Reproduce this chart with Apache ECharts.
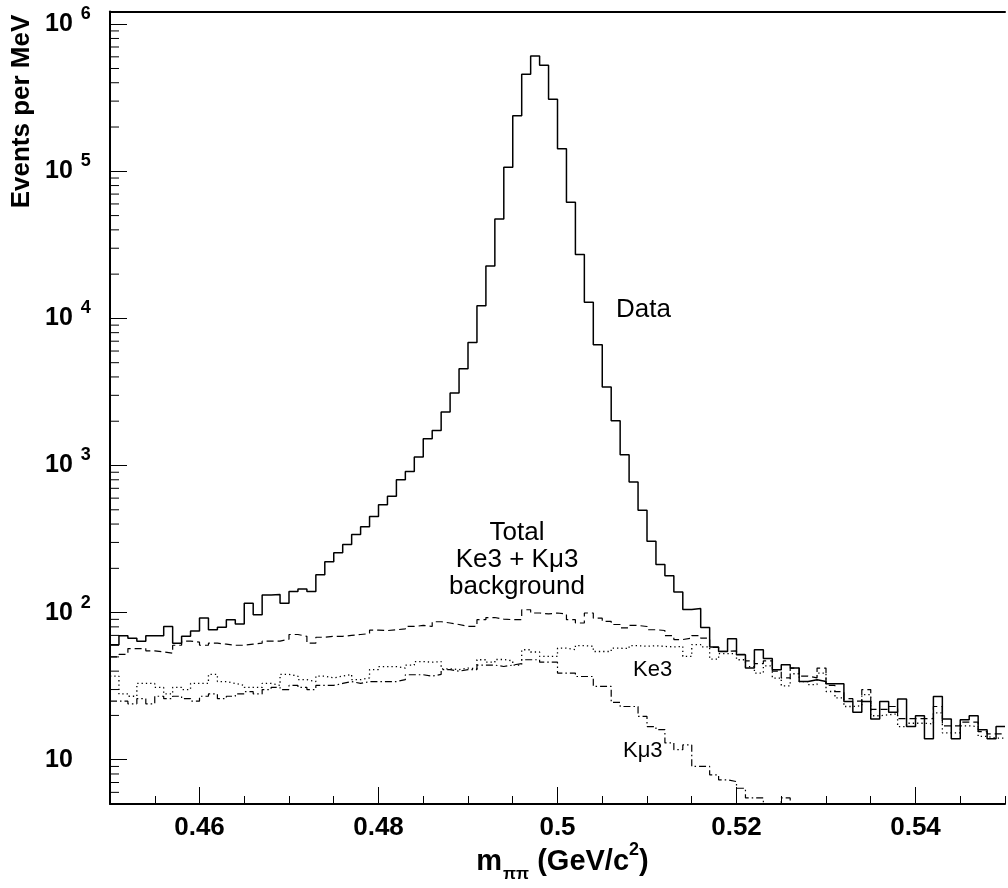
<!DOCTYPE html>
<html><head><meta charset="utf-8">
<script src="https://cdn.jsdelivr.net/npm/echarts@6/dist/echarts.min.js"></script>
<style>html,body{margin:0;padding:0;background:#fff}#c{width:1008px;height:888px}</style>
</head><body><div id="c"></div>
<script>
// ---- data: 1 MeV bins from 0.450 to 0.550 GeV/c^2 ----
const binStart = 0.45;
const binWidth = 0.001;
const dataCounts = [
  60.5, 69.7, 67, 63.8, 69.7, 69.7, 80.5, 62, 69, 75,
  92, 76.5, 79.5, 89.6, 83.6, 116, 96.7, 132, 133, 116,
  139, 145, 139, 181, 222, 255, 290, 340, 384, 450,
  541, 617, 800, 912, 1143, 1521, 1732, 2312, 3113, 4550,
  6870, 12190, 22700, 47400, 106400, 239000, 457000, 608000, 527000, 309000,
  142500, 61600, 27200, 12900, 6620, 3420, 2018, 1184, 773, 496,
  305, 212, 178, 138, 105, 106.6, 79.2, 58.4, 54.5, 66.5,
  51.7, 42, 55.9, 48.7, 40.9, 44.3, 42, 34, 35, 34,
  32.9, 32.9, 24.9, 21, 24.9, 18.9, 24.9, 21, 25.9, 16.8,
  19.9, 13.9, 26.9, 18.9, 13.9, 18.7, 19.9, 16, 13.9, 16.8
];
const totalBkg = [
  50, 52, 57, 57, 55, 54, 53, 60, 64, 63,
  60, 62, 61, 60, 60, 61, 62, 64, 64, 66,
  71, 69, 62, 68, 69, 69, 70, 71, 72, 76,
  75.5, 76.5, 77.5, 80.5, 81.8, 80.5, 86.7, 85, 83, 80.5,
  80.5, 89.6, 92.6, 90.3, 89.6, 89.6, 104.6, 99.4, 98, 99.4,
  98, 89.6, 85, 99.4, 91.6, 87.3, 83, 78.7, 81.8, 80.5,
  76.5, 75.6, 69.7, 65.6, 67, 69.7, 67, 58, 54.5, 55,
  52, 47, 45, 47, 40, 36, 42, 37, 36, 42,
  32, 29, 26, 25, 30, 22, 22, 23, 19, 19,
  19, 19, 23, 17, 17, 18, 18, 15.5, 15, 15
];
const ke3 = [
  37, 28, 27, 33, 33, 31, 28, 31, 30, 33,
  33, 38, 34, 33, 32, 31, 31, 33, 32, 38,
  37, 35, 34, 37, 36, 37, 38, 35, 36, 41,
  43, 43, 42, 44, 46.5, 46, 46.5, 41.5, 41, 42,
  41.5, 47.8, 46, 48, 47, 44, 55.9, 54, 50.4, 50.4,
  57.3, 56, 59.6, 59, 54.4, 54.4, 57.3, 57, 59.6, 59,
  59.6, 58.9, 58.5, 58.9, 50.4, 60.5, 58.5, 48.3, 52.6, 52.6,
  47.8, 43, 38.8, 43.5, 35.9, 31.8, 38.4, 34, 32.4, 38.8,
  29.1, 26.3, 23, 23.3, 27.7, 19.9, 20.2, 20.5, 16.8, 17.7,
  17.7, 17.5, 20.8, 15.2, 15.2, 17, 16.8, 14.4, 14, 14
];
const kmu3 = [
  25, 25, 24, 26, 24, 27, 26, 27, 26, 25,
  27, 28, 26, 27, 28, 29, 28, 30, 31, 30,
  32, 31, 30, 32, 32, 33, 34, 33, 34, 34,
  34, 34, 35, 37.8, 37.8, 37, 38, 41, 40, 41,
  41, 44, 44, 43, 44, 45, 47.8, 47.8, 46, 46,
  38.8, 38.8, 36.8, 36.8, 31.5, 31.5, 24.5, 23, 23, 19.7,
  16.8, 16, 13, 11.7, 12.6, 9, 9, 7.9, 7.3, 7.1,
  6.4, 5.5, 5.5, 4.6, 4.4, 5.5, 4.2, 4, 3.8, 3.6,
  3.5, 3.3, 3.2, 3.1, 3, 2.9, 2.8, 2.7, 2.6, 2.5,
  2.5, 2.4, 2.3, 2.2, 2.2, 2.1, 2, 2, 1.9, 1.9
];
// axis ticks / labels
const xMin = 0.45, xMax = 0.55;
const xLabelTicks = [0.46, 0.48, 0.5, 0.52, 0.54];
const yMin = 5, yMax = 1.22e6;
const yDecadeValues = [10, 100, 1000, 10000, 100000, 1000000];
const yDecadeExps = ['1', '2', '3', '4', '5', '6'];
const yMinorTicks = [6, 7, 8, 9,
  20, 30, 40, 50, 60, 70, 80, 90,
  200, 300, 400, 500, 600, 700, 800, 900,
  2000, 3000, 4000, 5000, 6000, 7000, 8000, 9000,
  20000, 30000, 40000, 50000, 60000, 70000, 80000, 90000,
  200000, 300000, 400000, 500000, 600000, 700000, 800000, 900000];

const FONT = '"Liberation Sans", Arial, Helvetica, sans-serif';

function hist(vals) {
  const pts = vals.map((v, i) => [+(binStart + i * binWidth).toFixed(4), v]);
  pts.push([+(binStart + vals.length * binWidth).toFixed(4), vals[vals.length - 1]]);
  return pts;
}

const chart = echarts.init(document.getElementById('c'), null, {renderer: 'canvas'});

function tickSeries(data, dx, dy) {
  return {
    type: 'custom', coordinateSystem: 'cartesian2d', xAxisIndex: 0, yAxisIndex: 0,
    clip: false, silent: true, z: 10,
    data: data,
    renderItem: function (params, api) {
      const p = api.coord([api.value(0), api.value(1)]);
      return {type: 'line', shape: {x1: p[0], y1: p[1], x2: p[0] + dx, y2: p[1] + dy},
        style: {stroke: '#000', lineWidth: 1}};
    }
  };
}

const lineBase = {type: 'line', step: 'end', symbol: 'none', clip: true, animation: false, silent: true};

chart.setOption({
  animation: false,
  backgroundColor: '#fff',
  grid: {left: 110, right: -7, top: 11.5, bottom: 84, containLabel: false},
  xAxis: [{
    type: 'value', min: xMin, max: xMax, interval: 0.005,
    axisLine: {show: true, onZero: false, lineStyle: {color: '#000', width: 2}},
    axisTick: {show: true, inside: true, length: 8, lineStyle: {color: '#000', width: 1}},
    splitLine: {show: false},
    axisLabel: {
      margin: 11, color: '#000', fontFamily: FONT, fontWeight: 'bold', fontSize: 26,
      formatter: function (v) {
        for (const t of xLabelTicks) if (Math.abs(t - v) < 1e-7) return String(t);
        return '';
      }
    }
  }, {
    type: 'value', position: 'top', min: xMin, max: xMax,
    axisLine: {show: true, lineStyle: {color: '#000', width: 2}},
    axisTick: {show: false}, axisLabel: {show: false}, splitLine: {show: false}
  }],
  yAxis: [{
    type: 'log', logBase: 10, min: yMin, max: yMax, splitNumber: 6,
    axisLine: {show: true, onZero: false, lineStyle: {color: '#000', width: 2}},
    axisTick: {show: true, inside: true, length: 17, lineStyle: {color: '#000', width: 1}},
    splitLine: {show: false},
    minorTick: {show: false},
    axisLabel: {
      align: 'left', margin: 65, color: '#000',
      formatter: function (v) {
        for (let i = 0; i < yDecadeValues.length; i++) {
          if (Math.abs(Math.log10(v) - Math.log10(yDecadeValues[i])) < 1e-6) {
            return yDecadeExps[i] === '1' ? '{b|10}' : '{b|10}{s|' + yDecadeExps[i] + '}';
          }
        }
        return '';
      },
      rich: {
        b: {fontFamily: FONT, fontWeight: 'bold', fontSize: 25, lineHeight: 38, color: '#000'},
        s: {fontFamily: FONT, fontWeight: 'bold', fontSize: 18, lineHeight: 16, verticalAlign: 'top', padding: [0, 0, 0, 8], color: '#000'}
      }
    }
  }],
  series: [
    Object.assign({}, lineBase, {name: 'Data', data: hist(dataCounts), z: 5,
      lineStyle: {color: '#000', width: 1.5, type: 'solid'}}),
    Object.assign({}, lineBase, {name: 'Total Ke3 + Kμ3 background', data: hist(totalBkg), z: 4,
      lineStyle: {color: '#000', width: 1.2, type: [7, 4]}}),
    Object.assign({}, lineBase, {name: 'Ke3', data: hist(ke3), z: 3,
      lineStyle: {color: '#000', width: 1.3, type: [1.3, 3]}}),
    Object.assign({}, lineBase, {name: 'Kμ3', data: hist(kmu3), z: 3,
      lineStyle: {color: '#000', width: 1.2, type: [7, 3, 1.5, 3]}}),
    tickSeries(xLabelTicks.map(x => [x, yMin]), 0, -17),
    tickSeries(yMinorTicks.map(v => [xMin, v]), 9, 0)
  ],
  graphic: [
    {type: 'text', x: 22, y: 111.5, rotation: Math.PI / 2, z: 100,
      style: {text: 'Events per MeV', font: 'bold 26px ' + FONT, fill: '#000',
        align: 'center', verticalAlign: 'middle', textAlign: 'center', textVerticalAlign: 'middle'}},
    {type: 'text', x: 562.5, y: 862, z: 100,
      style: {text: '{m|m}{sub|ππ}{t| (GeV/c}{sup|2}{t|)}', fill: '#000',
        align: 'center', verticalAlign: 'middle', textAlign: 'center', textVerticalAlign: 'middle',
        rich: {
          m: {font: 'bold 29px ' + FONT, lineHeight: 42, fill: '#000'},
          t: {font: 'bold 29px ' + FONT, lineHeight: 42, fill: '#000'},
          sub: {font: 'bold 17px ' + FONT, lineHeight: 16, verticalAlign: 'bottom', padding: [0, 0, 0, 1], fill: '#000'},
          sup: {font: 'bold 18px ' + FONT, lineHeight: 18, verticalAlign: 'top', fill: '#000'}
        }}},
    {type: 'text', x: 616, y: 310, z: 100,
      style: {text: 'Data', font: '26px ' + FONT, fill: '#000', align: 'left', verticalAlign: 'middle', textAlign: 'left', textVerticalAlign: 'middle'}},
    {type: 'text', x: 517, y: 533, z: 100,
      style: {text: 'Total', font: '26px ' + FONT, fill: '#000', align: 'center', verticalAlign: 'middle', textAlign: 'center', textVerticalAlign: 'middle'}},
    {type: 'text', x: 517, y: 560, z: 100,
      style: {text: 'Ke3 + Kμ3', font: '26px ' + FONT, fill: '#000', align: 'center', verticalAlign: 'middle', textAlign: 'center', textVerticalAlign: 'middle'}},
    {type: 'text', x: 517, y: 587, z: 100,
      style: {text: 'background', font: '26px ' + FONT, fill: '#000', align: 'center', verticalAlign: 'middle', textAlign: 'center', textVerticalAlign: 'middle'}},
    {type: 'text', x: 633, y: 670, z: 100,
      style: {text: 'Ke3', font: '22px ' + FONT, fill: '#000', align: 'left', verticalAlign: 'middle', textAlign: 'left', textVerticalAlign: 'middle'}},
    {type: 'text', x: 623, y: 751, z: 100,
      style: {text: 'Kμ3', font: '22px ' + FONT, fill: '#000', align: 'left', verticalAlign: 'middle', textAlign: 'left', textVerticalAlign: 'middle'}}
  ]
});
</script>
</body></html>
